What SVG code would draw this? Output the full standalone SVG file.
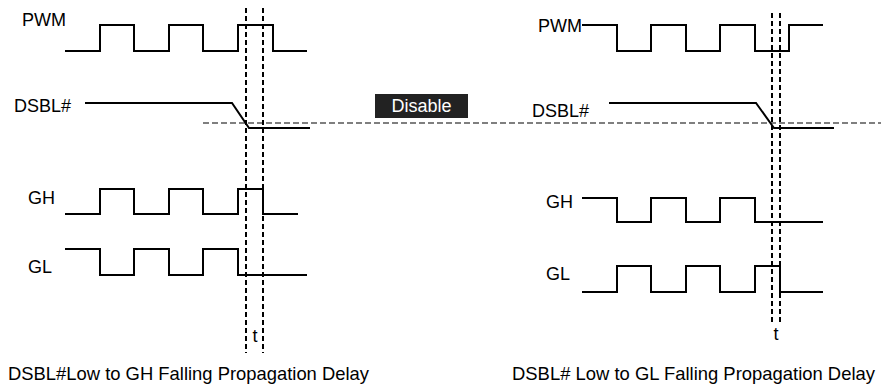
<svg xmlns="http://www.w3.org/2000/svg" width="881" height="390" viewBox="0 0 881 390">
<style>
text{font-family:"Liberation Sans",Arial,Helvetica,sans-serif;font-size:18px;fill:#000}
.w{fill:none;stroke:#000;stroke-width:2;stroke-linejoin:miter}
.v{fill:none;stroke:#000;stroke-width:2;stroke-dasharray:5 3}
.h{fill:none;stroke:#555;stroke-width:1.5;stroke-dasharray:6 3}
.cap{font-size:18.4px}
</style>
<rect width="881" height="390" fill="#fff"/>
<g id="connectors">
<path class="h" d="M203,123 H881"/>
<path class="v" d="M246,8 V353"/>
<path class="v" d="M263,8 V353"/>
<path class="v" d="M772,13 V325"/>
<path class="v" d="M780,13 V325"/>
</g>
<g id="left-pwm">
<text x="22" y="26">PWM</text>
<path class="w" d="M65,51 H100 V25 H134 V51 H169 V25 H203 V51 H238 V25 H273 V51 H307"/>
</g>
<g id="left-dsbl">
<text x="14" y="112">DSBL#</text>
<path class="w" d="M85,103 H232 L249,128 H310"/>
</g>
<g id="left-gh">
<text x="28" y="204">GH</text>
<path class="w" d="M65,214 H100 V189 H134 V214 H169 V189 H203 V214 H238 V189 H263 V214 H298"/>
</g>
<g id="left-gl">
<text x="28" y="273">GL</text>
<path class="w" d="M65,249 H100 V275 H134 V249 H169 V275 H203 V249 H238 V275 H307"/>
</g>
<g id="left-t"><text x="255" y="342" text-anchor="middle">t</text></g>
<g id="left-caption"><text class="cap" x="8" y="380" textLength="361" lengthAdjust="spacingAndGlyphs">DSBL#Low to GH Falling Propagation Delay</text></g>
<g id="disable">
<rect x="375" y="94" width="93" height="24" fill="#222"/>
<text x="421.5" y="112" text-anchor="middle" style="fill:#fff">Disable</text>
</g>
<g id="right-pwm">
<text x="538" y="32">PWM</text>
<path class="w" d="M582,25 H617 V51 H651 V25 H686 V51 H720 V25 H755 V51 H789 V25 H823"/>
</g>
<g id="right-dsbl">
<text x="532" y="117">DSBL#</text>
<path class="w" d="M609,103 H756 L774,128 H834"/>
</g>
<g id="right-gh">
<text x="546" y="208">GH</text>
<path class="w" d="M582,198 H617 V222 H651 V198 H686 V222 H720 V198 H755 V222 H823"/>
</g>
<g id="right-gl">
<text x="546" y="280">GL</text>
<path class="w" d="M582,292 H617 V266 H651 V292 H686 V266 H720 V292 H755 V266 H780 V292 H823"/>
</g>
<g id="right-t"><text x="776" y="340" text-anchor="middle">t</text></g>
<g id="right-caption"><text class="cap" x="512" y="380" textLength="363" lengthAdjust="spacingAndGlyphs">DSBL# Low to GL Falling Propagation Delay</text></g>
</svg>
